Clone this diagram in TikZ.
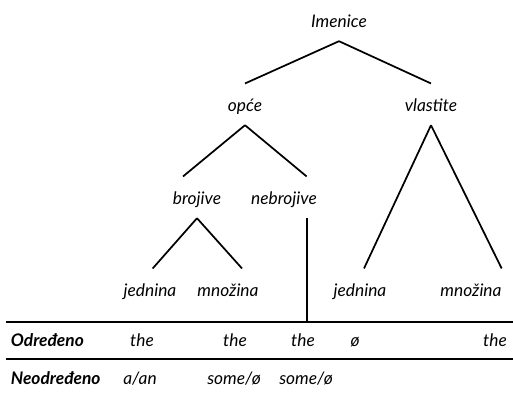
\documentclass[tikz,border=0pt]{standalone}
\usepackage{fontspec}
\setmainfont{Lato}
\begin{document}
\begin{tikzpicture}[x=0.75pt,y=-0.75pt,line width=1.3pt,
       word/.style={font=\fontsize{13}{15}\selectfont\itshape,inner sep=0pt,text height=20pt,text depth=10pt,anchor=base},
       head/.style={font=\fontsize{13}{15}\selectfont\bfseries\itshape,inner sep=0pt,anchor=base west},
       cell/.style={font=\fontsize{13}{15}\selectfont\itshape,inner sep=0pt,anchor=base},
       rule/.style={line width=1.4pt}]
   \useasboundingbox (0,0) rectangle (513,393);
   \node [word] (imenice) at (339,27) {Imenice};
   \node [word] (opce) at (245,111) {opće};
   \node [word] (vlastite) at (431,111) {vlastite};
   \node [word] (brojive) at (197,204) {brojive};
   \node [word] (nebrojive) at (284,204) {nebrojive};
   \node [word] (jednina1) at (150,296) {jednina};
   \node [word] (mnozina1) at (228,296) {množina};
   \node [word] (jednina2) at (360,296) {jednina};
   \node [word] (mnozina2) at (471,296) {množina};
   \draw (imenice.south) -- (opce.north);
   \draw (imenice.south) -- (vlastite.north);
   \draw (opce.south) -- ([xshift=-10.5pt]brojive.north);
   \draw (opce.south) -- ([xshift=17pt]nebrojive.north);
   \draw (brojive.south) -- ([xshift=2pt]jednina1.north);
   \draw (brojive.south) -- ([xshift=10.5pt]mnozina1.north);
   \draw (vlastite.south) -- ([xshift=3pt]jednina2.north);
   \draw (vlastite.south) -- ([xshift=23pt]mnozina2.north);
   \coordinate (top) at (6,322);
   \coordinate (mid) at (6,359);
   \coordinate (stem) at ([xshift=17pt]nebrojive.south);
   \draw (stem) -- (stem |- top);
   \draw [rule] (top) -- +(507,0);
   \draw [rule] (mid) -- +(507,0);
   \node [head] (odredeno) at (10,346) {Određeno};
   \node [head] (neodredeno) at (10,384) {Neodređeno};
   \node [cell] (d1) at (142,346) {the};
   \node [cell] (d2) at (235,346) {the};
   \node [cell] (d3) at (303,346) {the};
   \node [cell] (d4) at (355,346) {ø};
   \node [cell] (d5) at (495,346) {the};
   \node [cell] (n1) at (140,384) {a/an};
   \node [cell] (n2) at (234,384) {some/ø};
   \node [cell] (n3) at (306,384) {some/ø};
\end{tikzpicture}
\end{document}
